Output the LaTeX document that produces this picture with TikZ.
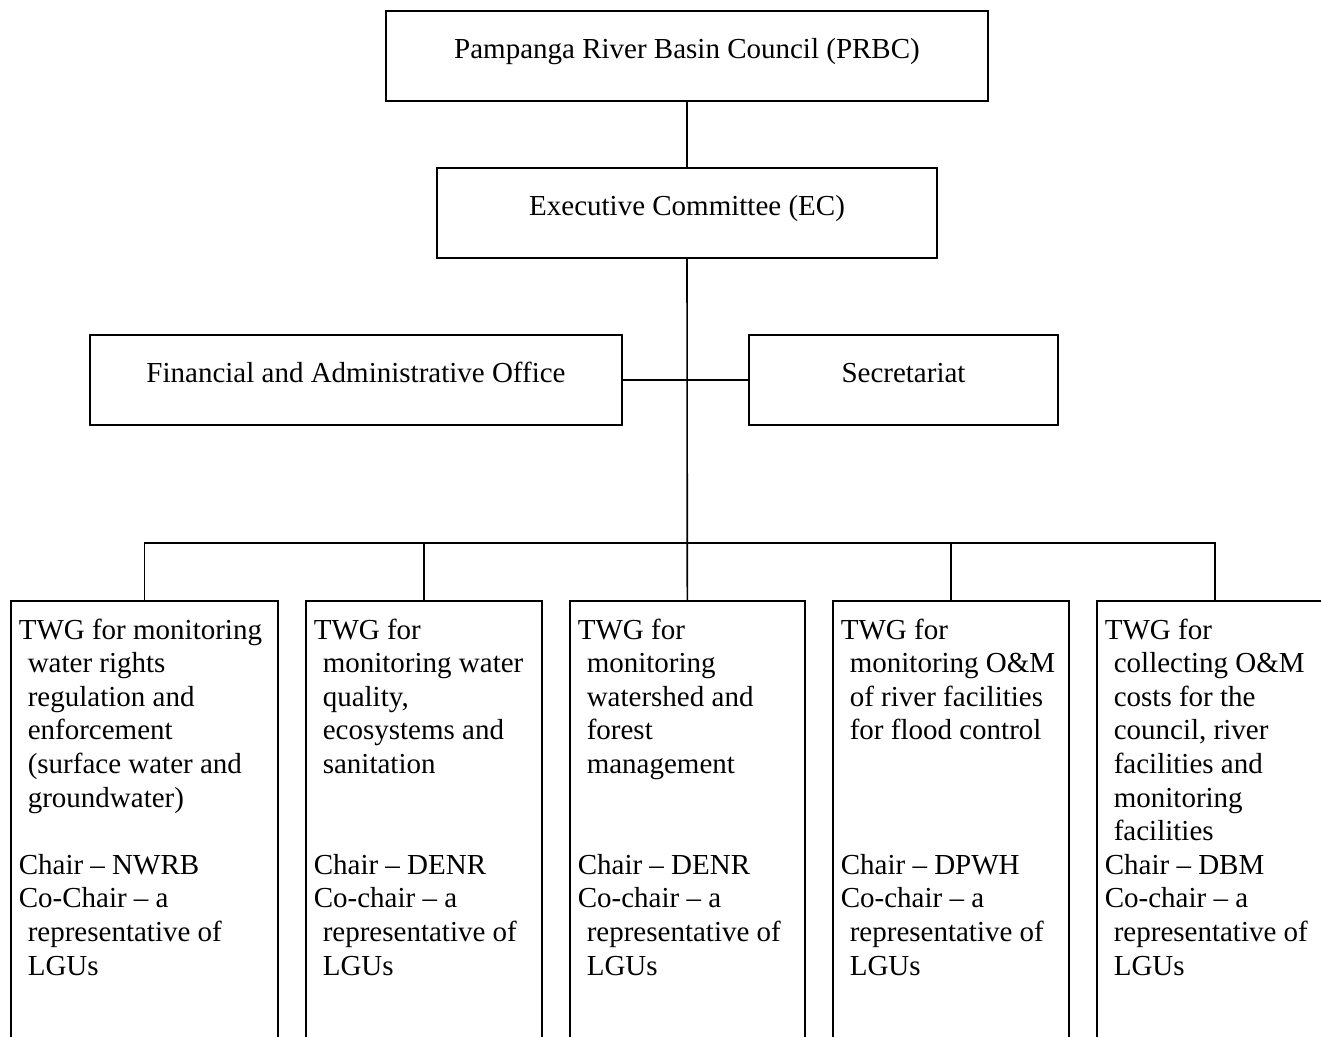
\documentclass[tikz,border=0pt]{standalone}
\usepackage{fontspec}
\setmainfont{Liberation Serif}
\begin{document}
\begin{tikzpicture}[x=1pt,y=-1pt,
  font=\fontsize{29}{33.6}\selectfont,
  line width=1.6pt,
  topbox/.style={draw, inner sep=0pt, minimum height=90pt, text height=20pt, text depth=16pt},
  twgbox/.style={draw, inner sep=0pt, anchor=north west, minimum height=480pt},
  twgtext/.style={anchor=base west, inner sep=0pt, xshift=8pt, yshift=-39pt}]
\useasboundingbox (0,0) rectangle (1321,1036);
\clip (0,0) rectangle (1321,1036);
\newcommand{\ind}{\hspace*{9pt}}
% upper boxes
\node[topbox, minimum width=602pt] (prbc) at (687,56) {Pampanga River Basin Council (PRBC)};
\node[topbox, minimum width=500pt] (ec) at (687,213) {Executive Committee (EC)};
\node[topbox, minimum width=532pt] (fao) at (356,380) {Financial and Administrative Office};
\node[topbox, minimum width=309pt] (sec) at (903.5,380) {Secretariat};
% TWG boxes
\node[twgbox, minimum width=267pt] (t1) at (10,600) {};
\node[twgbox, minimum width=236pt] (t2) at (305,600) {};
\node[twgbox, minimum width=235pt] (t3) at (569,600) {};
\node[twgbox, minimum width=236pt] (t4) at (832,600) {};
\node[twgbox, minimum width=236pt] (t5) at (1096,600) {};
% TWG texts
\node[twgtext] (x1) at (t1.north west) {\parbox[t]{255pt}{\raggedright
TWG for monitoring\\ \ind water rights\\ \ind regulation and\\ \ind enforcement\\ \ind (surface water and\\ \ind groundwater)\\ \mbox{}\\
Chair -- NWRB\\ Co-Chair -- a\\ \ind representative of\\ \ind LGUs}};
\node[twgtext] (x2) at (t2.north west) {\parbox[t]{228pt}{\raggedright
TWG for\\ \ind monitoring water\\ \ind quality,\\ \ind ecosystems and\\ \ind sanitation\\ \mbox{}\\ \mbox{}\\
Chair -- DENR\\ Co-chair -- a\\ \ind representative of\\ \ind LGUs}};
\node[twgtext] (x3) at (t3.north west) {\parbox[t]{228pt}{\raggedright
TWG for\\ \ind monitoring\\ \ind watershed and\\ \ind forest\\ \ind management\\ \mbox{}\\ \mbox{}\\
Chair -- DENR\\ Co-chair -- a\\ \ind representative of\\ \ind LGUs}};
\node[twgtext] (x4) at (t4.north west) {\parbox[t]{228pt}{\raggedright
TWG for\\ \ind monitoring O\&M\\ \ind of river facilities\\ \ind for flood control\\ \mbox{}\\ \mbox{}\\ \mbox{}\\
Chair -- DPWH\\ Co-chair -- a\\ \ind representative of\\ \ind LGUs}};
\node[twgtext] (x5) at (t5.north west) {\parbox[t]{228pt}{\raggedright
TWG for\\ \ind collecting O\&M\\ \ind costs for the\\ \ind council, river\\ \ind facilities and\\ \ind monitoring\\ \ind facilities\\
Chair -- DBM\\ Co-chair -- a\\ \ind representative of\\ \ind LGUs}};
% connectors
\coordinate (bar) at (687,543);
\draw (prbc.south) -- (ec.north);
\draw (ec.south) -- (t3.north);
\draw (fao.east) -- (sec.west);
\draw (t1.north) -- (t1.north |- bar) -- (t5.north |- bar) -- (t5.north);
\draw (t2.north) -- (t2.north |- bar);
\draw (t4.north) -- (t4.north |- bar);
\end{tikzpicture}
\end{document}
